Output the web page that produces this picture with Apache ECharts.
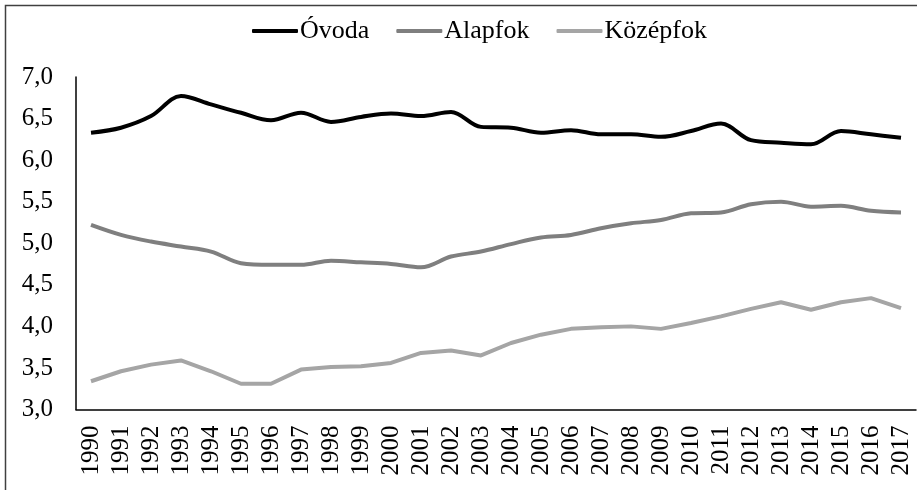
<!DOCTYPE html>
<html><head><meta charset="utf-8">
<script src="https://cdn.jsdelivr.net/npm/echarts@6/dist/echarts.min.js"></script>
<style>html,body{margin:0;padding:0;background:#fff}#c{width:917px;height:490px}</style>
</head><body><div id="c"></div>
<script>
var years = ['1990','1991','1992','1993','1994','1995','1996','1997','1998','1999','2000','2001','2002','2003','2004','2005','2006','2007','2008','2009','2010','2011','2012','2013','2014','2015','2016','2017'];
var ovoda = [6.33,6.39,6.53,6.77,6.67,6.57,6.48,6.57,6.46,6.52,6.56,6.53,6.58,6.40,6.39,6.33,6.36,6.31,6.31,6.28,6.35,6.44,6.24,6.21,6.19,6.35,6.31,6.27];
var alapfok = [5.22,5.10,5.02,4.96,4.90,4.76,4.74,4.74,4.79,4.77,4.75,4.71,4.84,4.90,4.99,5.07,5.10,5.18,5.24,5.28,5.36,5.37,5.47,5.50,5.44,5.45,5.39,5.37];
var kozepfok = [3.34,3.46,3.54,3.59,3.46,3.31,3.31,3.48,3.51,3.52,3.56,3.68,3.71,3.65,3.80,3.90,3.97,3.99,4.00,3.97,4.04,4.12,4.21,4.29,4.20,4.29,4.34,4.22];
var seriesNames = ['Óvoda','Alapfok','Középfok'];

var font = '"Liberation Serif","Times New Roman",serif';
var chart = echarts.init(document.getElementById('c'), null, {renderer:'canvas'});
chart.setOption({
  animation:false,
  backgroundColor:'#fff',
  textStyle:{fontFamily:font},
  graphic:[{type:'rect',shape:{x:5.5,y:5.5,width:2000,height:2000},style:{fill:'none',stroke:'#404040',lineWidth:1.5},silent:true}],
  legend:{
    data:seriesNames, top:13, left:247,
    icon:'roundRect', itemWidth:46, itemHeight:4, itemGap:27,
    textStyle:{fontFamily:font,fontSize:26,color:'#000',padding:[0,0,0,-3]}
  },
  grid:{left:76,right:1,top:77,bottom:80.5,containLabel:false},
  xAxis:{
    type:'category', data:years, boundaryGap:true,
    axisLine:{lineStyle:{color:'#000',width:1.5}},
    axisTick:{show:false},
    axisLabel:{rotate:90,interval:0,margin:16,fontFamily:font,fontSize:25,color:'#000'}
  },
  yAxis:{
    type:'value', min:3, max:7, interval:0.5,
    axisLine:{show:true,lineStyle:{color:'#000',width:1.5}},
    axisTick:{show:false},
    splitLine:{show:false},
    axisLabel:{margin:23,fontFamily:font,fontSize:25,color:'#000',
      formatter:function(v){return v.toFixed(1).replace('.',',');}}
  },
  series:[
    {name:seriesNames[0],type:'line',data:ovoda,smooth:0.35,symbol:'none',lineStyle:{color:'#000000',width:4},itemStyle:{color:'#000000'}},
    {name:seriesNames[1],type:'line',data:alapfok,smooth:0.35,symbol:'none',lineStyle:{color:'#7f7f7f',width:4},itemStyle:{color:'#7f7f7f'}},
    {name:seriesNames[2],type:'line',data:kozepfok,smooth:false,symbol:'none',lineStyle:{color:'#a5a5a5',width:4},itemStyle:{color:'#a5a5a5'}}
  ]
});
</script></body></html>
